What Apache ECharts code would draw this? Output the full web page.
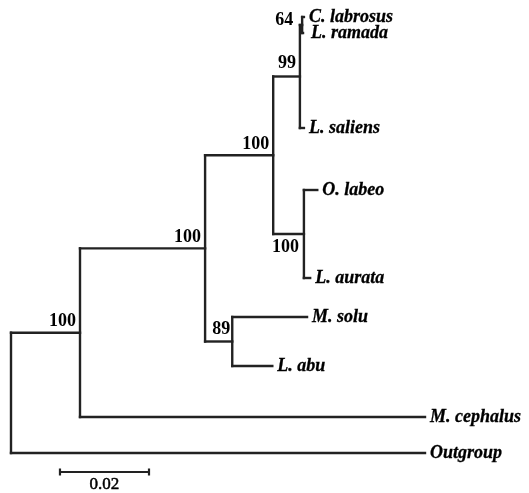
<!DOCTYPE html>
<html><head><meta charset="utf-8">
<script src="https://cdn.jsdelivr.net/npm/echarts@6/dist/echarts.min.js"></script>
<style>html,body{margin:0;padding:0;background:#fff}#c{width:529px;height:493px}</style>
</head><body><div id="c"></div>
<script>
// Tree data: nodes listed parent-before-child
const nodeNames = ['root','n1','n2','n3','n4','n5','C. labrosus','L. ramada','L. saliens','n9','O. labeo','L. aurata','n12','M. solu','L. abu','M. cephalus','Outgroup'];
const nodeParents = [-1,0,1,2,3,4,5,5,4,3,9,9,2,12,12,1,0];
const branchLengths = [0,0.0155,0.0281,0.0153,0.0060,0.0005,0.0004,0.0002,0.0009,0.0069,0.0030,0.0014,0.0061,0.0168,0.0090,0.0775,0.0930];
const supportValues = [null,100,100,100,99,64,null,null,null,100,null,null,89,null,null,null,null];
// vertical layout rows of the leaves (null = internal node)
const leafRows = [null,null,null,null,null,null,17,33,128,null,190,278,null,317,366,417,453];
const scaleBarStart = 0.011;
const scaleBarLength = 0.02;
const scaleBarLabel = '0.02';
const scaleBarRow = 472;

// layout computation
const n = nodeNames.length;
const nodeX = new Array(n).fill(0);
for (let i = 0; i < n; i++) nodeX[i] = (nodeParents[i] < 0 ? 0 : nodeX[nodeParents[i]]) + branchLengths[i];
const children = nodeNames.map(() => []);
nodeParents.forEach((p, i) => { if (p >= 0) children[p].push(i); });
const nodeY = leafRows.slice();
for (let i = n - 1; i >= 0; i--) {
  if (children[i].length) {
    const c = children[i];
    nodeY[i] = (nodeY[c[0]] + nodeY[c[c.length - 1]]) / 2;
  }
}
const segments = [];
for (let i = 0; i < n; i++) {
  if (nodeParents[i] >= 0) segments.push([nodeX[nodeParents[i]], nodeY[i], nodeX[i], nodeY[i]]);
  if (children[i].length) {
    const c = children[i];
    segments.push([nodeX[i], nodeY[c[0]], nodeX[i], nodeY[c[c.length - 1]]]);
  }
}
const leafData = [], supportData = [];
for (let i = 0; i < n; i++) {
  if (!children[i].length) leafData.push([nodeX[i], nodeY[i], nodeNames[i]]);
  else if (supportValues[i] != null) supportData.push([nodeX[i], nodeY[i], String(supportValues[i]), nodeNames[i]]);
}
const supportOffsets = { n5: [-9, -5], n9: [-5, 13], n12: [-2, -12], n4: [-4, -13] };
const defaultOffset = [-4, -11];
const leafOffsets = { 'L. ramada': 8 };
const lineColor = '#222';
const textFontLeaf = 'italic bold 18px "Liberation Serif", "DejaVu Serif", serif';
const textFontSupport = 'bold 18px "Liberation Serif", "DejaVu Serif", serif';

const chart = echarts.init(document.getElementById('c'), null, { renderer: 'canvas' });
chart.setOption({
  animation: false,
  backgroundColor: '#fff',
  grid: { left: 11, right: 104, top: 0, bottom: 0 },
  xAxis: { type: 'value', min: 0, max: 0.093, show: false },
  yAxis: { type: 'value', min: 0, max: 493, inverse: true, show: false },
  series: [
    {
      type: 'custom', data: segments, clip: false,
      renderItem: (params, api) => {
        const a = api.coord([api.value(0), api.value(1)]);
        const b = api.coord([api.value(2), api.value(3)]);
        return { type: 'line', shape: { x1: a[0], y1: a[1], x2: b[0], y2: b[1] },
          style: { stroke: lineColor, lineWidth: 2.4, lineCap: 'square' } };
      }
    },
    {
      type: 'custom', data: leafData, clip: false,
      renderItem: (params, api) => {
        const name = leafData[params.dataIndex][2];
        const p = api.coord([api.value(0), api.value(1)]);
        return { type: 'text', x: p[0] + (leafOffsets[name] || 5), y: p[1],
          style: { text: name, fill: '#000', align: 'left', verticalAlign: 'middle',
            font: textFontLeaf, stroke: '#000', lineWidth: 0.3 } };
      }
    },
    {
      type: 'custom', data: supportData, clip: false,
      renderItem: (params, api) => {
        const d = supportData[params.dataIndex];
        const p = api.coord([api.value(0), api.value(1)]);
        const off = supportOffsets[d[3]] || defaultOffset;
        return { type: 'text', x: p[0] + off[0], y: p[1] + off[1],
          style: { text: d[2], fill: '#000', align: 'right', verticalAlign: 'middle',
            font: textFontSupport } };
      }
    },
    {
      type: 'custom', data: [[scaleBarStart, scaleBarStart + scaleBarLength, scaleBarRow]], clip: false,
      renderItem: (params, api) => {
        const a = api.coord([api.value(0), api.value(2)]);
        const b = api.coord([api.value(1), api.value(2)]);
        const st = { stroke: lineColor, lineWidth: 2.2 };
        return { type: 'group', children: [
          { type: 'line', shape: { x1: a[0], y1: a[1], x2: b[0], y2: b[1] }, style: st },
          { type: 'line', shape: { x1: a[0], y1: a[1] - 3.5, x2: a[0], y2: a[1] + 3.5 }, style: st },
          { type: 'line', shape: { x1: b[0], y1: b[1] - 3.5, x2: b[0], y2: b[1] + 3.5 }, style: st },
          { type: 'text', x: (a[0] + b[0]) / 2, y: a[1] + 13,
            style: { text: scaleBarLabel, fill: '#000', align: 'center', verticalAlign: 'middle',
              font: '17px "Liberation Serif", "DejaVu Serif", serif', stroke: '#000', lineWidth: 0.5 } }
        ] };
      }
    }
  ]
});
</script></body></html>
